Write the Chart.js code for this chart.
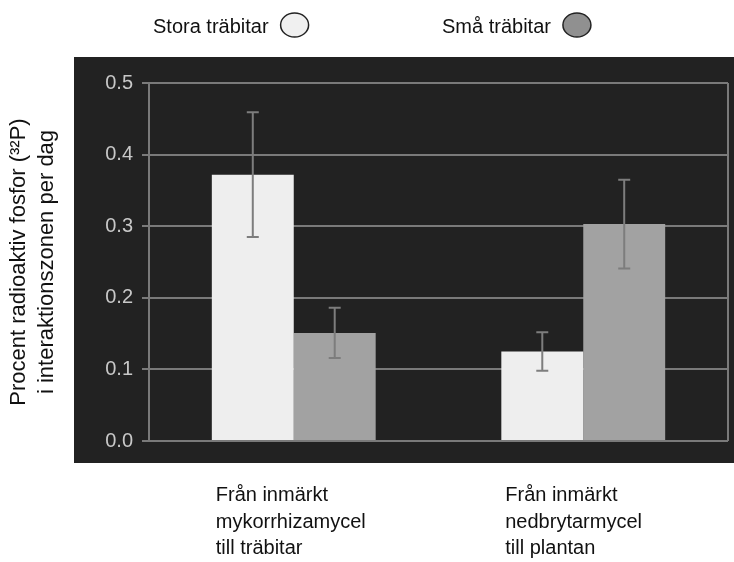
<!DOCTYPE html>
<html lang="sv">
<head>
<meta charset="UTF-8">
<title>Radioaktiv fosfor</title>
<script src="https://cdn.jsdelivr.net/npm/chart.js"></script>
<style>
  html, body { margin: 0; padding: 0; background: #fff; }
</style>
</head>
<body>
<canvas id="chart" width="734" height="562"></canvas>
<script>
// data
const categories = [
  ['Från inmärkt', 'mykorrhizamycel', 'till träbitar'],
  ['Från inmärkt', 'nedbrytarmycel', 'till plantan']
];
const seriesNames = ['Stora träbitar', 'Små träbitar'];
const storaValues = [0.372, 0.125];
const smaValues = [0.151, 0.303];
const storaErrors = [0.087, 0.027];
const smaErrors = [0.035, 0.062];
const yTickLabels = ['0.0', '0.1', '0.2', '0.3', '0.4', '0.5'];
const yTitle = ['Procent radioaktiv fosfor (³²P)', 'i interaktionszonen per dag'];

const FONT = "'Liberation Sans', Arial, sans-serif";
const GRID = '#7a7a7a';
const fills = ['#eeeeee', '#a2a2a2'];
const legendFills = ['#f0f0f0', '#909090'];

// dark panel behind the plot
const panel = {
  id: 'panel',
  beforeDraw(chart) {
    const ctx = chart.ctx;
    ctx.save();
    ctx.fillStyle = '#222222';
    ctx.fillRect(74, 57, 660, 406);
    ctx.restore();
  }
};

// right edge of the frame
const frame = {
  id: 'frame',
  beforeDatasetsDraw(chart) {
    const a = chart.chartArea, ctx = chart.ctx;
    ctx.save();
    ctx.strokeStyle = GRID;
    ctx.lineWidth = 2;
    ctx.beginPath();
    ctx.moveTo(a.right, a.top);
    ctx.lineTo(a.right, a.bottom);
    ctx.stroke();
    ctx.restore();
  }
};

const errorBars = {
  id: 'errorBars',
  afterDatasetsDraw(chart) {
    const ctx = chart.ctx, y = chart.scales.y;
    ctx.save();
    ctx.strokeStyle = '#7d7d7d';
    ctx.lineWidth = 2;
    chart.data.datasets.forEach((ds, di) => {
      chart.getDatasetMeta(di).data.forEach((bar, i) => {
        const v = ds.data[i], e = ds.errors[i];
        const top = y.getPixelForValue(v + e), bot = y.getPixelForValue(v - e);
        ctx.beginPath();
        ctx.moveTo(bar.x, top); ctx.lineTo(bar.x, bot);
        ctx.moveTo(bar.x - 6, top); ctx.lineTo(bar.x + 6, top);
        ctx.moveTo(bar.x - 6, bot); ctx.lineTo(bar.x + 6, bot);
        ctx.stroke();
      });
    });
    ctx.restore();
  }
};

// category labels, left aligned under each group
const xLabels = {
  id: 'xLabels',
  afterDraw(chart) {
    const ctx = chart.ctx, x = chart.scales.x;
    ctx.save();
    ctx.font = '20px ' + FONT;
    ctx.fillStyle = '#111';
    ctx.textAlign = 'left';
    ctx.textBaseline = 'alphabetic';
    categories.forEach((lines, i) => {
      const px = x.getPixelForValue(i) - 78;
      lines.forEach((t, j) => ctx.fillText(t, px, 501 + j * 26.5));
    });
    ctx.restore();
  }
};

// legend: text first, then an oval swatch
const legendRow = {
  id: 'legendRow',
  afterDraw(chart) {
    const ctx = chart.ctx;
    const starts = [153, 442];
    ctx.save();
    ctx.font = '20px ' + FONT;
    ctx.textBaseline = 'alphabetic';
    seriesNames.forEach((name, i) => {
      ctx.fillStyle = '#111';
      ctx.fillText(name, starts[i], 33);
      const w = ctx.measureText(name).width;
      ctx.beginPath();
      ctx.ellipse(starts[i] + w + 26, 25, 14, 12, 0, 0, Math.PI * 2);
      ctx.fillStyle = legendFills[i];
      ctx.fill();
      ctx.strokeStyle = '#222';
      ctx.lineWidth = 1.5;
      ctx.stroke();
    });
    ctx.restore();
  }
};

new Chart(document.getElementById('chart'), {
  type: 'bar',
  data: {
    labels: categories,
    datasets: [
      { label: seriesNames[0], data: storaValues, errors: storaErrors, backgroundColor: fills[0] },
      { label: seriesNames[1], data: smaValues, errors: smaErrors, backgroundColor: fills[1] }
    ]
  },
  options: {
    responsive: false,
    animation: false,
    devicePixelRatio: 1,
    layout: { padding: { top: 83, right: 6, bottom: 121, left: 0 } },
    datasets: { bar: { categoryPercentage: 0.566, barPercentage: 1, borderWidth: 0 } },
    plugins: { legend: { display: false }, tooltip: { enabled: false } },
    scales: {
      x: { display: false },
      y: {
        min: 0,
        max: 0.5,
        afterFit(scale) { scale.width = 149; },
        ticks: {
          stepSize: 0.1,
          padding: 9,
          color: '#c8c8c8',
          font: { family: FONT, size: 20 },
          callback: (v, i) => yTickLabels[i]
        },
        grid: { color: GRID, lineWidth: 2, tickLength: 7 },
        border: { display: true, color: GRID, width: 2 },
        title: {
          display: true,
          text: yTitle,
          color: '#111',
          font: { family: FONT, size: 22, lineHeight: 1.27 },
          padding: { top: 5, bottom: 0 }
        }
      }
    }
  },
  plugins: [panel, frame, errorBars, xLabels, legendRow]
});
</script>
</body>
</html>
